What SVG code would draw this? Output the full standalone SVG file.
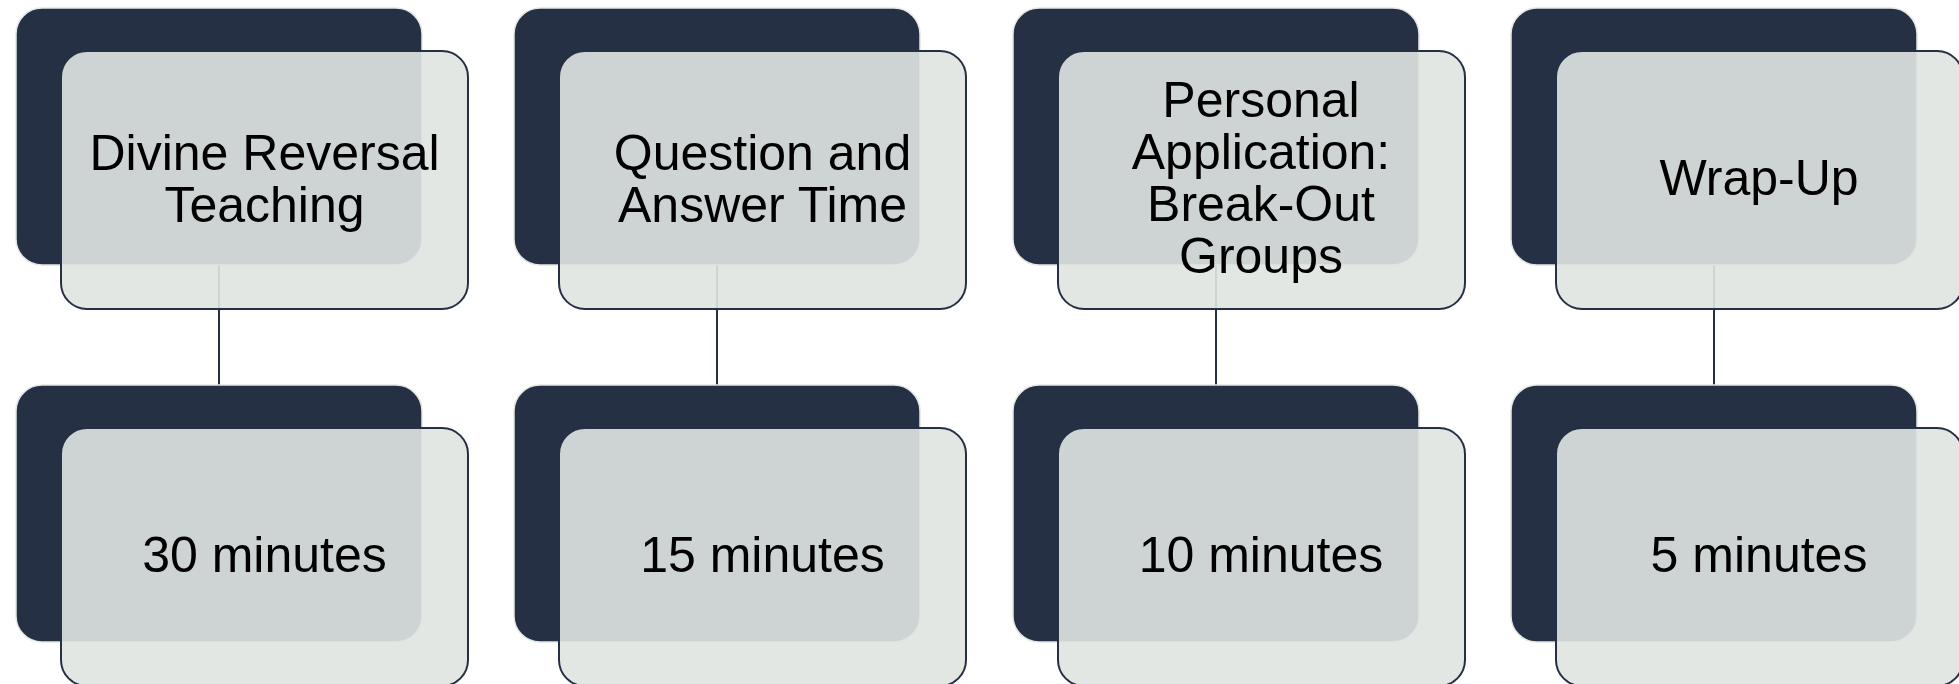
<svg xmlns="http://www.w3.org/2000/svg" width="1959" height="684" viewBox="0 0 1959 684">
<style>
.bg{fill:#253044;stroke:#e2e8e4;stroke-width:1.5}
.fg{fill:#dfe5e1;fill-opacity:0.91;stroke:#253044;stroke-width:2}
.t{font-family:"Liberation Sans",Arial,sans-serif;font-size:50px;fill:#000;text-anchor:middle}
.c{stroke:#253044;stroke-width:2;fill:none}
</style>
<rect width="1959" height="684" fill="#fff"/>
<g id="connectors">
<line class="c" x1="219" y1="265" x2="219" y2="385"/>
<line class="c" x1="717" y1="265" x2="717" y2="385"/>
<line class="c" x1="1216" y1="265" x2="1216" y2="385"/>
<line class="c" x1="1714" y1="265" x2="1714" y2="385"/>
</g>
<g id="node1">
<rect class="bg" x="16" y="8" width="406" height="257" rx="26"/>
<rect class="fg" x="61" y="51" width="407" height="258" rx="26"/>
<text class="t"><tspan x="264.5" y="170">Divine Reversal</tspan><tspan x="264.5" y="222">Teaching</tspan></text>
</g>
<g id="node2">
<rect class="bg" x="514" y="8" width="406" height="257" rx="26"/>
<rect class="fg" x="559" y="51" width="407" height="258" rx="26"/>
<text class="t"><tspan x="762.5" y="170">Question and</tspan><tspan x="762.5" y="222">Answer Time</tspan></text>
</g>
<g id="node3">
<rect class="bg" x="1013" y="8" width="406" height="257" rx="26"/>
<rect class="fg" x="1058" y="51" width="407" height="258" rx="26"/>
<text class="t"><tspan x="1261" y="117">Personal</tspan><tspan x="1261" y="169">Application:</tspan><tspan x="1261" y="221">Break-Out</tspan><tspan x="1261" y="273">Groups</tspan></text>
</g>
<g id="node4">
<rect class="bg" x="1511" y="8" width="406" height="257" rx="26"/>
<rect class="fg" x="1556" y="51" width="407" height="258" rx="26"/>
<text class="t" x="1759" y="195">Wrap-Up</text>
</g>
<g id="node5">
<rect class="bg" x="16" y="385" width="406" height="257" rx="26"/>
<rect class="fg" x="61" y="428" width="407" height="258" rx="26"/>
<text class="t" x="264.5" y="572">30 minutes</text>
</g>
<g id="node6">
<rect class="bg" x="514" y="385" width="406" height="257" rx="26"/>
<rect class="fg" x="559" y="428" width="407" height="258" rx="26"/>
<text class="t" x="762.5" y="572">15 minutes</text>
</g>
<g id="node7">
<rect class="bg" x="1013" y="385" width="406" height="257" rx="26"/>
<rect class="fg" x="1058" y="428" width="407" height="258" rx="26"/>
<text class="t" x="1261" y="572">10 minutes</text>
</g>
<g id="node8">
<rect class="bg" x="1511" y="385" width="406" height="257" rx="26"/>
<rect class="fg" x="1556" y="428" width="407" height="258" rx="26"/>
<text class="t" x="1759" y="572">5 minutes</text>
</g>
</svg>
